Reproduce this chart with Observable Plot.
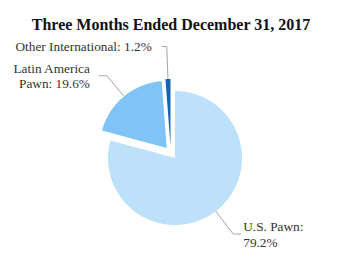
<!DOCTYPE html>
<html>
<head>
<meta charset="utf-8">
<script src="https://cdn.jsdelivr.net/npm/d3@7"></script>
<script src="https://cdn.jsdelivr.net/npm/@observablehq/plot@0.6"></script>
<style>
  html, body { margin: 0; padding: 0; background: #fff; }
  #chart { width: 341px; height: 277px; }
</style>
</head>
<body>
<div id="chart"></div>
<script>
// ---- data ----
const title = "Three Months Ended December 31, 2017";
const categories = ["U.S. Pawn", "Latin America Pawn", "Other International"];
const shares = [79.2, 19.6, 1.2];
const labelLines = [["U.S. Pawn:", "79.2%"], ["Latin America", "Pawn: 19.6%"], ["Other International: 1.2%"]];

// ---- style / layout ----
const colors = ["#bde1fb", "#7fc3f7", "#1466b4"];
const FONT = "Liberation Serif";
const W = 341, H = 277, R = 67, CX = 174.5, CY = 157.5;
const explode = [[0, 0], [-8.3, -10], [-4.5, -12]];   // px offsets of pulled-out slices
const leaderR = [1.43, 1.40, 1.485];                  // elbow radius (in pie radii)
const leg = [8, -8, -5];                              // horizontal leg (px)
const textGap = [2, -9, -10];                         // gap from leg end to text (px)
const lineH = [1.2, 1.08, 1.1];                       // line height (em)

const pie = d3.pie().sort(null).value(d => d)(shares);

// slice outlines in pie-radius units
const slicePts = [];
pie.forEach((p, i) => {
  const ox = explode[i][0] / R, oy = -explode[i][1] / R;
  const n = Math.max(4, Math.ceil((p.endAngle - p.startAngle) / (Math.PI / 360)));
  slicePts.push({slice: categories[i], x: ox, y: oy});
  for (let k = 0; k <= n; k++) {
    const a = p.startAngle + (p.endAngle - p.startAngle) * k / n;
    slicePts.push({slice: categories[i], x: ox + Math.sin(a), y: oy + Math.cos(a)});
  }
  slicePts.push({slice: categories[i], x: ox, y: oy});
});

// leader lines and labels
const leaders = [];
const labels = [];
pie.forEach((p, i) => {
  const m = (p.startAngle + p.endAngle) / 2;
  const ox = explode[i][0] / R, oy = -explode[i][1] / R;
  const p0 = [ox + Math.sin(m), oy + Math.cos(m)];
  const p1 = [ox + leaderR[i] * Math.sin(m), oy + leaderR[i] * Math.cos(m)];
  const p2 = [p1[0] + leg[i] / R, p1[1]];
  [p0, p1, p2].forEach(([x, y]) => leaders.push({slice: categories[i], x, y}));
  labels.push({
    slice: categories[i],
    x: p2[0] + textGap[i] / R,
    y: p2[1],
    text: labelLines[i].join("\n"),
    anchor: leg[i] > 0 ? "start" : "end",
    lh: lineH[i]
  });
});

const px = x => (x - CX) / R;
const py = y => (CY - y) / R;

const labelMarks = labels.map(l => Plot.text([l], {
  x: "x", y: "y", text: "text",
  textAnchor: l.anchor, lineAnchor: "middle", lineHeight: l.lh,
  fontSize: 13.3, fontFamily: FONT, fill: "#333"
}));

const chart = Plot.plot({
  width: W, height: H,
  marginTop: 0, marginRight: 0, marginBottom: 0, marginLeft: 0,
  x: {domain: [px(0), px(W)], axis: null},
  y: {domain: [py(H), py(0)], axis: null},
  color: {type: "ordinal", domain: categories, range: colors},
  style: {fontFamily: FONT, background: "#fff", color: "#333"},
  marks: [
    Plot.line(slicePts, {x: "x", y: "y", z: "slice", fill: "slice", stroke: "none", curve: "linear"}),
    Plot.line(leaders, {x: "x", y: "y", z: "slice", stroke: "#a6a6a6", strokeWidth: 1, curve: "linear", strokeLinecap: "butt", strokeLinejoin: "miter"}),
    ...labelMarks,
    Plot.text([title], {
      x: px(170.5), y: py(29 - 0.32 * 16), text: d => d,
      fontSize: 16, fontWeight: "bold", fontFamily: FONT, fill: "#111", lineAnchor: "middle"
    })
  ]
});
document.getElementById("chart").appendChild(chart);
</script>
</body>
</html>
